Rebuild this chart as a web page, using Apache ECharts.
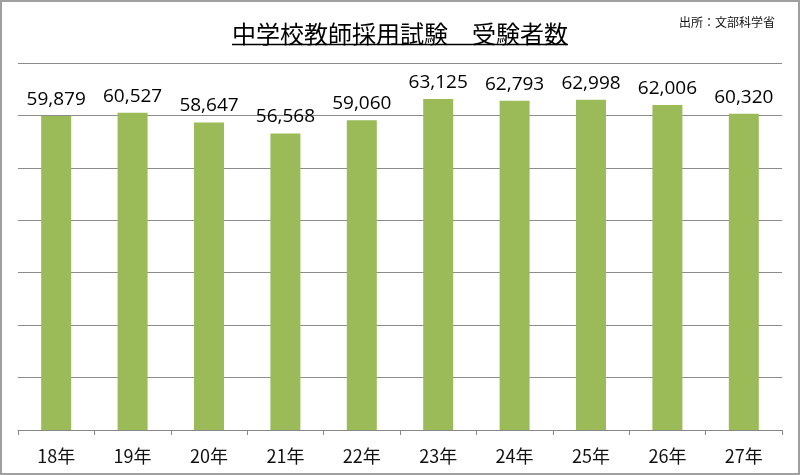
<!DOCTYPE html>
<html><head><meta charset="utf-8">
<script src="https://cdn.jsdelivr.net/npm/echarts@6/dist/echarts.min.js"></script>
<style>html,body{margin:0;padding:0;background:#fff}#c{width:800px;height:475px}</style>
</head><body><div id="c"></div>
<script>
const categories = ['18年','19年','20年','21年','22年','23年','24年','25年','26年','27年'];
const examinees = [59879, 60527, 58647, 56568, 59060, 63125, 62793, 62998, 62006, 60320];
const titleText = '中学校教師採用試験　受験者数';
const sourceText = '出所：文部科学省';

const chart = echarts.init(document.getElementById('c'));
chart.setOption({
  animation: false,
  backgroundColor: '#fff',
  title: [{
    text: titleText, left: 'center', top: 17,
    textStyle: {fontFamily: 'Noto Sans CJK JP', fontSize: 24, fontWeight: 'normal', color: '#000'}
  }, {
    text: sourceText, right: 20, top: 11,
    textStyle: {fontFamily: 'Noto Sans CJK JP', fontSize: 12, fontWeight: 'normal', color: '#111'}
  }],
  graphic: [
    {type: 'rect', shape: {x: 1, y: 1, width: 798, height: 473}, style: {fill: 'none', stroke: '#a0a0a0', lineWidth: 2}, silent: true},
    {type: 'line', shape: {x1: 232, y1: 44.5, x2: 568, y2: 44.5}, style: {stroke: '#000', lineWidth: 1.3}, silent: true}
  ],
  grid: {left: 18, right: 18, top: 63, bottom: 45},
  xAxis: {
    type: 'category', data: categories,
    axisLine: {lineStyle: {color: '#888', width: 1}},
    axisTick: {show: true, length: 5, lineStyle: {color: '#888'}},
    axisLabel: {fontFamily: 'Noto Sans CJK JP', fontSize: 18, color: '#111', margin: 17}
  },
  yAxis: {
    type: 'value', min: 0, max: 70000, interval: 10000,
    axisLabel: {show: false}, axisLine: {show: false}, axisTick: {show: false},
    splitLine: {lineStyle: {color: '#8c8c8c', width: 1}}
  },
  series: [{
    type: 'bar', data: examinees, barWidth: 30,
    itemStyle: {color: '#9bbb59'},
    label: {show: true, position: 'top', distance: 7,
      fontFamily: 'Open Sans', fontSize: 19, color: '#000',
      formatter: p => p.value.toLocaleString('en-US')}
  }]
});
</script></body></html>
